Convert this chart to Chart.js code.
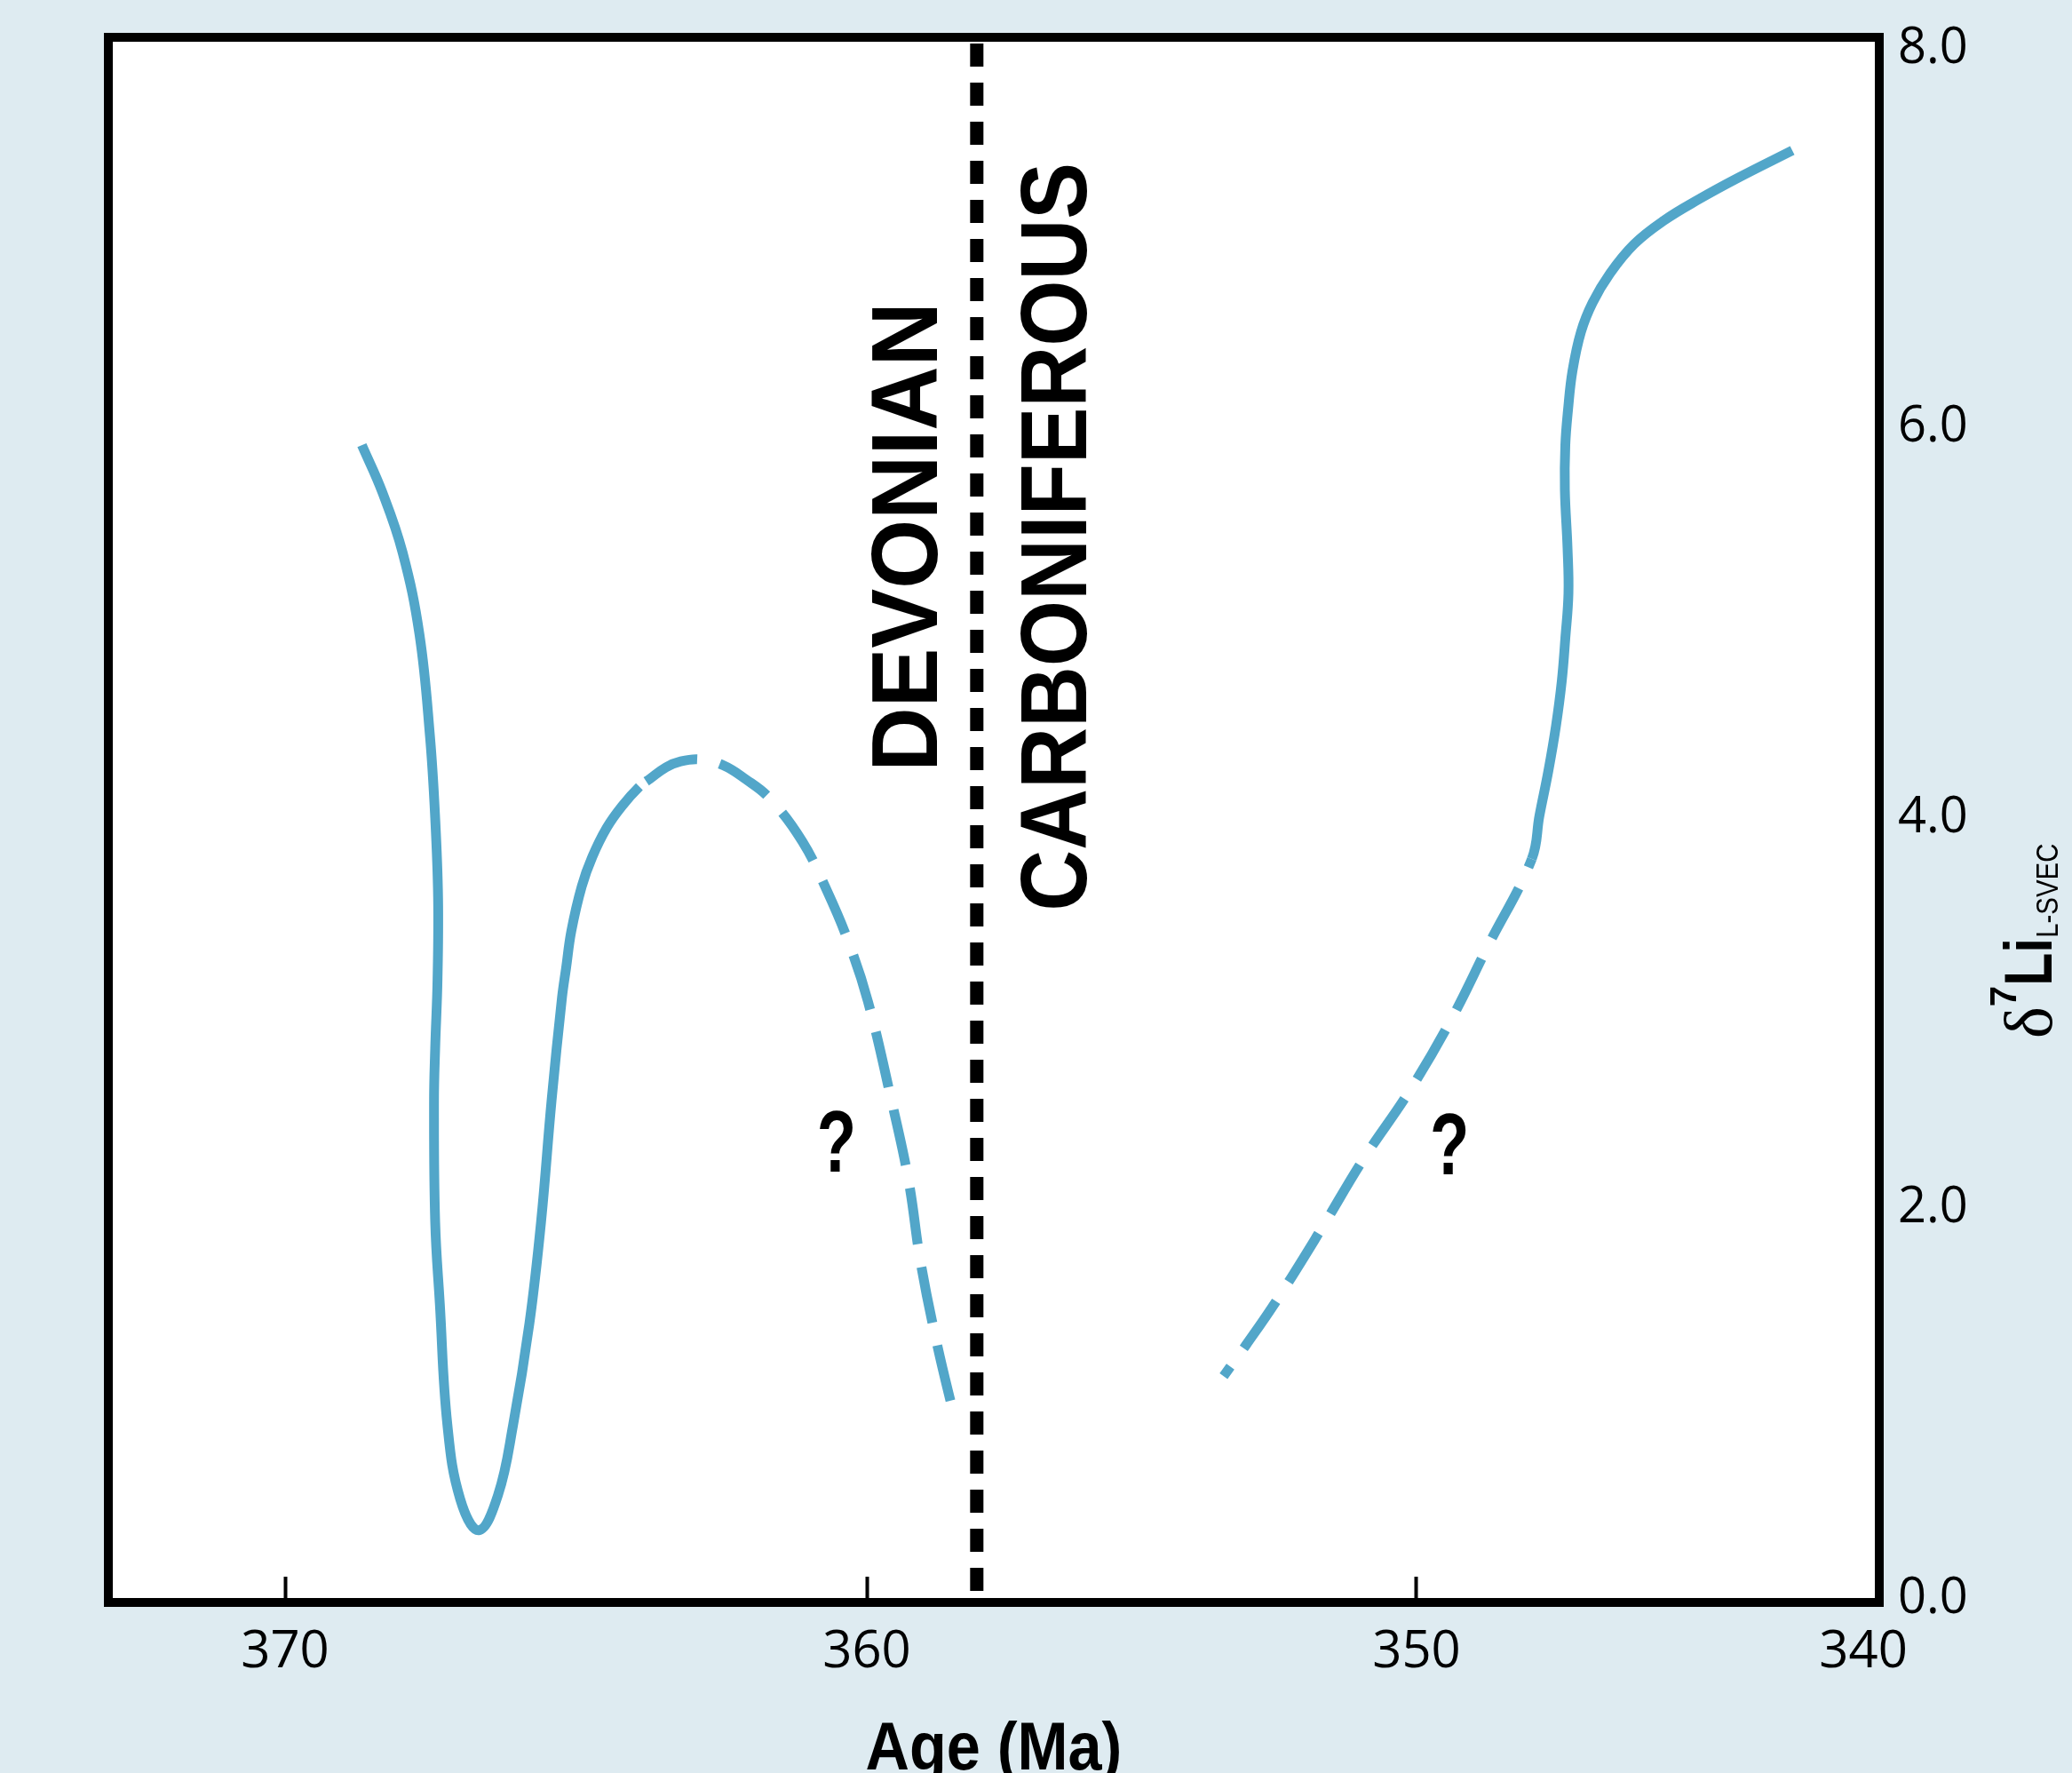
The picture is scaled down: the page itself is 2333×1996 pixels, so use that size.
<!DOCTYPE html>
<html>
<head>
<meta charset="utf-8">
<title>δ7Li across the Devonian–Carboniferous boundary</title>
<script src="https://cdn.jsdelivr.net/npm/chart.js@4.4.1/dist/chart.umd.min.js"></script>
<style>
  html, body { margin: 0; padding: 0; background: #deebf1; }
  canvas { display: block; }
</style>
</head>
<body>
<canvas id="chart" width="2333" height="1996"></canvas>
<script>
// age in Ma, d7Li in permil
const ageTicks = [370, 360, 350, 340];
const liTicks = [0, 2, 4, 6, 8];

// Devonian curve: solid up to index devDashFrom, dashed after it
const devAge = [368.68, 368.33, 367.98, 367.69, 367.51, 367.42, 367.37, 367.38, 367.42, 367.44, 367.42, 367.34, 367.21, 366.99, 366.67, 366.34, 366.08, 365.80, 365.60, 365.42, 365.24, 365.17, 365.08, 364.90, 364.72, 364.47, 364.21, 363.91,
  363.73, 363.45, 363.20, 362.87, 362.47, 362.09, 361.67, 361.11, 360.69, 360.31, 359.98, 359.55, 359.24, 359.02, 358.72, 358.39];
const devLi = [5.91, 5.67, 5.36, 4.94, 4.42, 4.00, 3.59, 3.17, 2.82, 2.55, 1.93, 1.51, 0.89, 0.51, 0.35, 0.53, 0.89, 1.41, 1.93, 2.55, 3.08, 3.23, 3.42, 3.65, 3.80, 3.95, 4.06, 4.16,
  4.20, 4.26, 4.29, 4.30, 4.27, 4.20, 4.10, 3.88, 3.63, 3.36, 3.06, 2.55, 2.14, 1.72, 1.30, 0.91];
const devDashFrom = 27;

// Carboniferous curve: dashed up to index carbDashTo, solid after it
const carbAge = [353.51, 353.10, 352.54, 351.74, 350.97, 350.13, 349.24, 348.41, 347.42,
  347.25, 347.05, 346.88, 346.75, 346.67, 346.60, 346.62, 346.68, 346.67, 346.61, 346.51, 346.32, 346.06, 345.67, 345.13, 344.47, 343.68, 342.80, 341.59];
const carbLi = [1.14, 1.30, 1.53, 1.89, 2.25, 2.60, 2.96, 3.34, 3.79,
  4.01, 4.24, 4.47, 4.70, 4.92, 5.15, 5.38, 5.68, 5.91, 6.09, 6.29, 6.49, 6.64, 6.79, 6.94, 7.06, 7.17, 7.28, 7.42];
const carbDashTo = 8;

const boundaryAge = 358;
const periodNames = ['DEVONIAN', 'CARBONIFEROUS'];
const periodLevel = 5.44;
const queryAges = [360.52, 349.26];
const queryLi = [2.35, 2.34];

// the age axis of the original is not evenly spaced: piecewise linear between ticks
const axisAges = [373.04, 370, 360, 350, 340, 339.64];
const axisFrac = [0, 0.0998, 0.4283, 0.7387, 0.9910, 1];

function ageToFrac(age) {
  for (let i = 1; i < axisAges.length; i++) {
    if (age >= axisAges[i] || i === axisAges.length - 1) {
      const t = (age - axisAges[i - 1]) / (axisAges[i] - axisAges[i - 1]);
      return axisFrac[i - 1] + t * (axisFrac[i] - axisFrac[i - 1]);
    }
  }
}
function fracToAge(f) {
  for (let i = 1; i < axisFrac.length; i++) {
    if (f <= axisFrac[i] || i === axisFrac.length - 1) {
      const t = (f - axisFrac[i - 1]) / (axisFrac[i] - axisFrac[i - 1]);
      return axisAges[i - 1] + t * (axisAges[i] - axisAges[i - 1]);
    }
  }
}

class AgeScale extends Chart.LinearScale {
  getPixelForValue(value) {
    return this.getPixelForDecimal(ageToFrac(value));
  }
  getValueForPixel(pixel) {
    return fracToAge(this.getDecimalForPixel(pixel));
  }
}
AgeScale.id = 'age';
AgeScale.defaults = Chart.LinearScale.defaults;
Chart.register(AgeScale);

const blue = '#52a6c9';
const dash = [64, 26];
const yMin = -0.02;
const yMax = 8;

function points(ages, vals) {
  return ages.map((a, i) => ({ x: a, y: vals[i] }));
}

function squeezedText(ctx, text, x, y, font, squeeze, rotate) {
  ctx.save();
  ctx.translate(x, y);
  if (rotate) ctx.rotate(-Math.PI / 2);
  ctx.scale(squeeze, 1);
  ctx.font = font;
  ctx.textAlign = 'center';
  ctx.textBaseline = 'alphabetic';
  ctx.fillText(text, 0, 0);
  ctx.restore();
}

const decorations = {
  id: 'decorations',
  beforeDraw(chart) {
    const { ctx, chartArea: a, width, height } = chart;
    ctx.save();
    ctx.fillStyle = '#deebf1';
    ctx.fillRect(0, 0, width, height);
    ctx.fillStyle = '#ffffff';
    ctx.fillRect(a.left, a.top, a.right - a.left, a.bottom - a.top);
    ctx.restore();
  },
  afterDatasetsDraw(chart) {
    const { ctx, chartArea: a } = chart;
    ctx.save();
    ctx.strokeStyle = '#000';
    ctx.lineWidth = 10;
    ctx.strokeRect(a.left, a.top, a.right - a.left, a.bottom - a.top);
    ctx.restore();
  },
  afterDraw(chart) {
    const { ctx, chartArea: a, scales: { x, y } } = chart;
    ctx.save();
    ctx.fillStyle = '#000';

    const bx = x.getPixelForValue(boundaryAge);
    const py = y.getPixelForValue(periodLevel);
    squeezedText(ctx, periodNames[0], bx - 45, py, 'bold 106px "Liberation Sans"', 0.945, true);
    squeezedText(ctx, periodNames[1], bx + 123, py, 'bold 106px "Liberation Sans"', 0.9, true);

    queryAges.forEach((age, i) => {
      squeezedText(ctx, '?', x.getPixelForValue(age), y.getPixelForValue(queryLi[i]) + 36,
        'bold 98px "Liberation Sans"', 0.74, false);
    });

    // x axis title
    squeezedText(ctx, 'Age (Ma)', (a.left + a.right) / 2, a.bottom + 188, 'bold 76px "Liberation Sans"', 0.9, false);

    // y axis title, reads bottom to top
    ctx.translate(a.right + 194, a.bottom - 635);
    ctx.rotate(-Math.PI / 2);
    ctx.textAlign = 'left';
    ctx.textBaseline = 'alphabetic';
    let cx = 0;
    ctx.font = '76px "Liberation Serif"';
    ctx.fillText('δ', cx, 0);
    cx += ctx.measureText('δ').width;
    ctx.font = 'bold 42px "Liberation Sans"';
    ctx.fillText('7', cx, -40);
    cx += ctx.measureText('7').width;
    ctx.save();
    ctx.translate(cx, 0);
    ctx.scale(0.8, 1);
    ctx.font = 'bold 76px "Liberation Sans"';
    ctx.fillText('Li', 0, 0);
    cx += ctx.measureText('Li').width * 0.8;
    ctx.restore();
    ctx.translate(cx, 0);
    ctx.scale(0.84, 1);
    ctx.font = '35px "Liberation Sans"';
    ctx.fillText('L-SVEC', 0, 7);
    ctx.restore();
  }
};

Chart.defaults.font.family = '"Open Sans", sans-serif';
Chart.defaults.color = '#000';

const lineStyle = { borderColor: blue, borderWidth: 11, pointRadius: 0, tension: 0.4, fill: false };

new Chart(document.getElementById('chart'), {
  type: 'line',
  data: {
    datasets: [
      {
        label: 'Devonian',
        data: points(devAge, devLi),
        ...lineStyle,
        segment: {
          borderDash: c => (c.p0DataIndex >= devDashFrom ? dash : undefined),
          borderDashOffset: c => (c.p0DataIndex >= devDashFrom ? 80 : undefined)
        }
      },
      {
        label: 'Carboniferous',
        data: points(carbAge, carbLi),
        ...lineStyle,
        segment: {
          borderDash: c => (c.p1DataIndex <= carbDashTo ? dash : undefined),
          borderDashOffset: c => (c.p1DataIndex <= carbDashTo ? 51 : undefined)
        }
      },
      {
        label: 'Boundary',
        data: [{ x: boundaryAge, y: yMax }, { x: boundaryAge, y: yMin }],
        borderColor: '#000', borderWidth: 15, borderDash: [26, 18], borderDashOffset: 37,
        pointRadius: 0, tension: 0
      }
    ]
  },
  options: {
    responsive: false,
    animation: false,
    devicePixelRatio: 1,
    events: [],
    layout: { padding: { left: 122, top: 42, right: 0, bottom: 0 } },
    plugins: { legend: { display: false }, tooltip: { enabled: false } },
    scales: {
      x: {
        type: 'age',
        min: 339.64,
        max: 373.04,
        afterBuildTicks: s => { s.ticks = ageTicks.map(v => ({ value: v })); },
        afterFit: s => { s.height = 192; },
        border: { display: false },
        grid: {
          display: true,
          drawOnChartArea: false,
          drawTicks: true,
          tickLength: -29,
          tickWidth: 4,
          tickColor: c => (c.tick && c.tick.value === 340 ? 'rgba(0,0,0,0)' : '#000')
        },
        ticks: {
          font: { size: 58 },
          padding: 51,
          maxRotation: 0,
          autoSkip: false,
          callback: v => v.toFixed(0)
        }
      },
      y: {
        position: 'right',
        min: yMin,
        max: yMax,
        afterBuildTicks: s => { s.ticks = liTicks.map(v => ({ value: v })); },
        afterFit: s => { s.width = 217; s.paddingTop = 0; s.paddingBottom = 0; },
        border: { display: false },
        grid: { display: false, drawTicks: false },
        ticks: {
          // the top label sits a little below the top edge of the frame
          font: c => (c.tick && c.tick.value === yMax ? { size: 56, lineHeight: 0.46 } : { size: 56 }),
          padding: 21,
          callback: v => (v === yMax ? ['', v.toFixed(1)] : v.toFixed(1))
        }
      }
    }
  },
  plugins: [decorations]
});
</script>
</body>
</html>
